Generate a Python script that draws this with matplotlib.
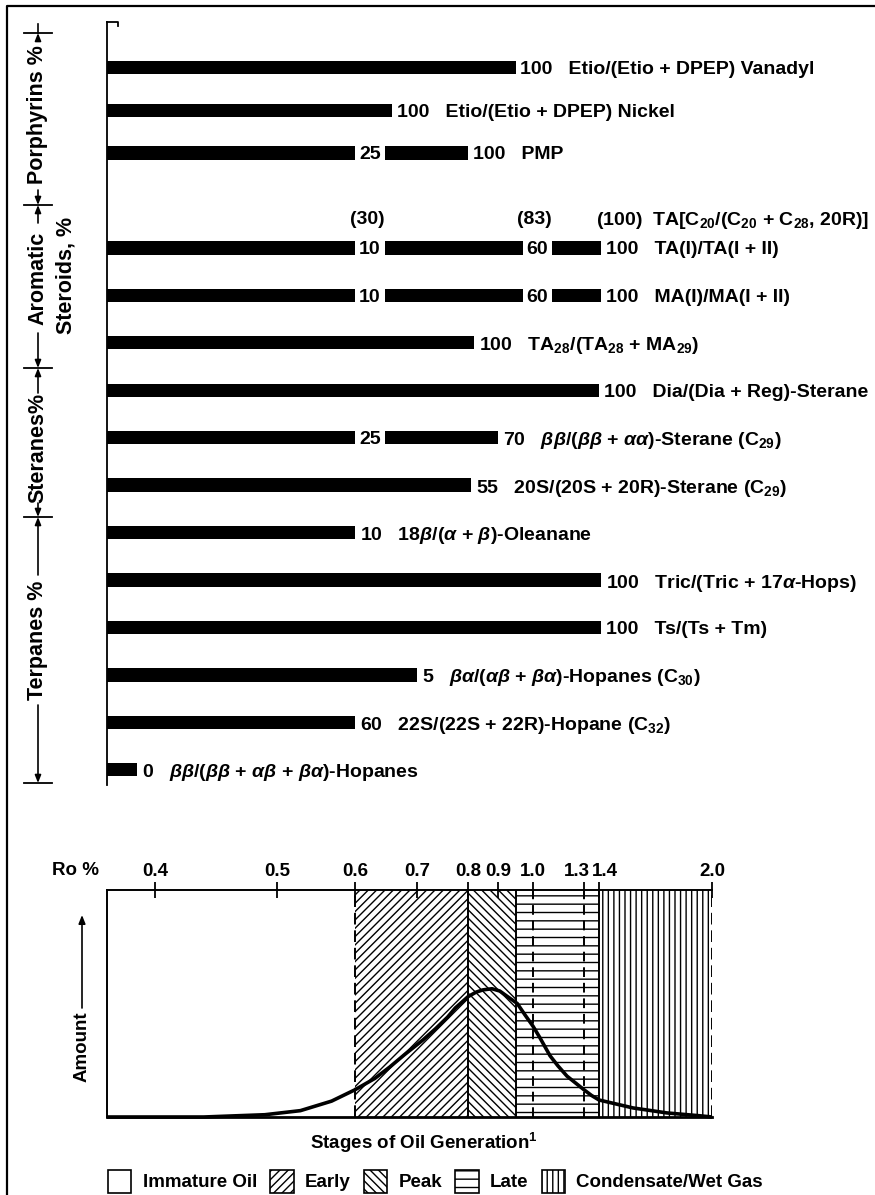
import numpy as np
import matplotlib
matplotlib.use("Agg")
import matplotlib.pyplot as plt
from matplotlib.patches import Patch
from matplotlib import transforms

# ---------------- data ----------------
ro_ticks = [0.4, 0.5, 0.6, 0.7, 0.8, 0.9, 1.0, 1.3, 1.4, 2.0]
ro_tick_labels = ["0.4", "0.5", "0.6", "0.7", "0.8", "0.9", "1.0", "1.3", "1.4", "2.0"]
ro_start = 0.36

marker_names = [
    "Etio/(Etio + DPEP) Vanadyl",
    "Etio/(Etio + DPEP) Nickel",
    "PMP",
    "TA(I)/TA(I + II)",
    "MA(I)/MA(I + II)",
    r"TA$_{28}$/(TA$_{28}$ + MA$_{29}$)",
    "Dia/(Dia + Reg)-Sterane",
    r"$\beta\beta/(\beta\beta$ + $\alpha\alpha)$-Sterane (C$_{29}$)",
    r"20S/(20S + 20R)-Sterane (C$_{29}$)",
    r"18$\beta$/($\alpha$ + $\beta$)-Oleanane",
    r"Tric/(Tric + 17$\alpha$-Hops)",
    "Ts/(Ts + Tm)",
    r"$\beta\alpha$/($\alpha\beta$ + $\beta\alpha$)-Hopanes (C$_{30}$)",
    r"22S/(22S + 22R)-Hopane (C$_{32}$)",
    r"$\beta\beta$/($\beta\beta$ + $\alpha\beta$ + $\beta\alpha$)-Hopanes",
]
marker_end_ro = [0.95, 0.66, 0.80, 1.41, 1.41, 0.82, 1.40, 0.90, 0.81, 0.60,
                 1.41, 1.41, 0.70, 0.60, 0.385]
marker_end_pct = ["100", "100", "100", "100", "100", "100", "100", "70", "55", "10",
                  "100", "100", "5", "60", "0"]
# intermediate values along split bars: row index -> [(Ro, value)]
marker_breaks = {
    2: [(0.60, "25")],
    3: [(0.60, "10"), (0.97, "60")],
    4: [(0.60, "10"), (0.97, "60")],
    7: [(0.60, "25")],
}
ta_header_ro = [0.60, 0.97, 1.41]
ta_header_pct = ["(30)", "(83)", "(100)"]
ta_header_name = r"TA[C$_{20}$/(C$_{20}$ + C$_{28}$, 20R)]"

stage_names = ["Immature Oil", "Early", "Peak", "Late", "Condensate/Wet Gas"]
stage_start = [0.36, 0.60, 0.80, 0.95, 1.40]
stage_end = [0.60, 0.80, 0.95, 1.40, 2.00]

curve_ro = [0.36, 0.44, 0.49, 0.53, 0.57, 0.60, 0.632, 0.656, 0.68, 0.712, 0.737, 0.76,
            0.775, 0.80, 0.827, 0.85, 0.88, 0.905, 0.923, 0.955, 0.977, 1.0, 1.04, 1.1,
            1.147, 1.2, 1.25, 1.3, 1.35, 1.4, 1.58, 1.76, 1.94, 2.0]
curve_amount = [0.0, 0.0, 0.01, 0.028, 0.07, 0.12, 0.17, 0.22, 0.275, 0.34, 0.39, 0.44,
                0.48, 0.53, 0.55, 0.56, 0.565, 0.555, 0.535, 0.50, 0.45, 0.40, 0.35, 0.27,
                0.225, 0.18, 0.15, 0.12, 0.095, 0.075, 0.04, 0.018, 0.005, 0.0]

# ---------------- layout / style ----------------
W, H = 875, 1195
ro_axis_px = [107, 155, 277, 355, 417, 468, 498, 533, 584, 599, 712]  # nonlinear Ro axis of the figure
row_slot = [0.2, 1.1, 2.0, 4, 5, 6, 7, 8, 9, 10, 11, 12, 13, 14, 15]
header_slot = 3.37
stage_hatch = [None, "////", "\\\\\\\\", "--", "|||"]
boundary_ro = [0.6, 0.8, 0.95, 1.0, 1.3, 1.4, 2.0]
boundary_ls = [(0, (6, 3)), "-", "-", (0, (5, 3)), (0, (5, 3)), "-", (0, (6, 3))]

plt.rcParams["font.family"] = ["Liberation Sans", "DejaVu Sans"]
plt.rcParams["font.weight"] = "bold"
plt.rcParams["mathtext.fontset"] = "custom"
plt.rcParams["mathtext.rm"] = "Liberation Sans:bold"
plt.rcParams["mathtext.it"] = "Liberation Sans:italic:bold"
plt.rcParams["mathtext.bf"] = "Liberation Sans:bold"
plt.rcParams["mathtext.sf"] = "Liberation Sans:bold"
plt.rcParams["hatch.linewidth"] = 1.0

FS = 14
FS_AX = 13.5
FS_SIDE = 15.5

knot_ro = np.array([ro_start] + ro_ticks, float)
knot_pos = (np.array(ro_axis_px, float) - ro_axis_px[0]) / (ro_axis_px[-1] - ro_axis_px[0])


def _pl(v, xs, ys):
    v = np.asarray(v, float)
    out = np.interp(v, xs, ys)
    s0 = (ys[1] - ys[0]) / (xs[1] - xs[0])
    s1 = (ys[-1] - ys[-2]) / (xs[-1] - xs[-2])
    out = np.where(v < xs[0], ys[0] + (v - xs[0]) * s0, out)
    out = np.where(v > xs[-1], ys[-1] + (v - xs[-1]) * s1, out)
    return out


def fwd(v):
    return _pl(v, knot_ro, knot_pos)


def inv(p):
    return _pl(p, knot_pos, knot_ro)


fig = plt.figure(figsize=(W / 100, H / 100), dpi=100)
fig.patch.set_facecolor("white")


def px_rect(l, t, r, b):
    return [l / W, 1 - b / H, (r - l) / W, (b - t) / H]


def off(trans, dx=0, dy=0):
    return transforms.offset_copy(trans, fig=fig, x=dx, y=dy, units="dots")


# ---------------- top: biomarker bars ----------------
ax = fig.add_axes(px_rect(107, 22, 712, 785))
ax.set_xscale("function", functions=(fwd, inv))
ax.set_xlim(ro_start, ro_ticks[-1])
ax.set_ylim(15.32, -0.76)
for s in ["top", "right", "bottom"]:
    ax.spines[s].set_visible(False)
ax.spines["left"].set_linewidth(1.3)
ax.set_xticks([])
ax.set_yticks([])
ax.patch.set_alpha(0)

ys = np.array(row_slot, float)
ends = np.array(marker_end_ro, float)
ax.barh(ys, ends - ro_start, left=ro_start, height=0.28, color="black", linewidth=0, zorder=1)

t_end = off(ax.transData, 5, 0)
for i, (name, end, pct) in enumerate(zip(marker_names, marker_end_ro, marker_end_pct)):
    ax.text(end, ys[i], f"{pct}   {name}", transform=t_end, ha="left", va="center_baseline",
            fontsize=FS, clip_on=False)
t_brk = off(ax.transData, 4, 0)
for i, brks in marker_breaks.items():
    for ro, txt in brks:
        ax.text(ro, ys[i], txt, transform=t_brk, ha="left", va="center_baseline", fontsize=FS,
                zorder=3, bbox=dict(boxstyle="square,pad=0.2", fc="white", ec="none"))
t_head = off(ax.transData, -5, 0)
for k, (ro, txt) in enumerate(zip(ta_header_ro, ta_header_pct)):
    s = txt if k < len(ta_header_ro) - 1 else f"{txt}  {ta_header_name}"
    ax.text(ro, header_slot, s, transform=t_head, ha="left", va="center_baseline",
            fontsize=FS, clip_on=False)

# ---------------- bottom: stages of oil generation ----------------
axb = fig.add_axes(px_rect(107, 890, 712, 1117))
axb.set_xscale("function", functions=(fwd, inv))
axb.set_xlim(ro_start, ro_ticks[-1])
axb.set_ylim(0, 1)
for a, b, h in zip(stage_start, stage_end, stage_hatch):
    axb.axvspan(a, b, facecolor="white", edgecolor="black", hatch=h, linewidth=0, zorder=0)
for r, ls in zip(boundary_ro, boundary_ls):
    axb.axvline(r, color="black", lw=1.4, linestyle=ls, zorder=2)
axb.plot(curve_ro, curve_amount, color="black", lw=2.6, clip_on=False, zorder=4,
         solid_capstyle="butt", solid_joinstyle="round")
axb.spines["right"].set_visible(False)
for s in ["top", "left"]:
    axb.spines[s].set_linewidth(1.4)
axb.spines["bottom"].set_linewidth(2.0)
axb.set_yticks([])
axb.set_xticks(ro_ticks)
axb.xaxis.set_ticks_position("top")
axb.tick_params(axis="x", direction="inout", length=11, width=1.3,
                labeltop=False, labelbottom=False)
label_dx = {1.3: -7, 1.4: 6}
blend = transforms.blended_transform_factory(axb.transData, axb.transAxes)
for v, lab in zip(ro_ticks, ro_tick_labels):
    axb.text(v, 1, lab, transform=off(blend, label_dx.get(v, 0), 20), ha="center",
             va="center_baseline", fontsize=FS_AX, clip_on=False)

legend_handles = [Patch(facecolor="white", edgecolor="black", hatch=h, linewidth=1.2, label=n)
                  for n, h in zip(stage_names, stage_hatch)]
fig.legend(handles=legend_handles, loc="lower left", bbox_to_anchor=(108 / W, 2 / H),
           ncol=5, frameon=False, fontsize=FS_AX, handlelength=1.25, handleheight=1.55,
           handletextpad=0.6, columnspacing=0.7, borderpad=0, borderaxespad=0)

# ---------------- overlay: frame, brackets, side labels ----------------
ov = fig.add_axes([0, 0, 1, 1])
ov.set_xlim(0, W)
ov.set_ylim(H, 0)
ov.axis("off")
ov.patch.set_alpha(0)

ov.plot([7, 7, W + 5], [H + 5, 6, 6], color="black", lw=1.6, clip_on=False)
ov.plot([107, 118, 118], [22, 22, 26], color="black", lw=1.3)

bx = 38
for ty in [33, 205, 368, 517, 783]:
    ov.plot([bx - 14, bx + 14], [ty, ty], color="black", lw=1.3)
ov.plot([bx, bx], [24, 33], color="black", lw=1.2)
arrows = [(40, 33), (190, 205), (223, 205), (333, 368), (393, 368), (503, 517),
          (575, 517), (705, 783)]
for y0, y1 in arrows:
    ov.annotate("", xy=(bx, y1), xytext=(bx, y0),
                arrowprops=dict(arrowstyle="-|>,head_length=0.45,head_width=0.18",
                                color="black", lw=1.2, shrinkA=0, shrinkB=0))
ov.text(bx, 115, "Porphyrins %", rotation=90, ha="center", va="center", fontsize=FS_SIDE)
ov.text(bx, 278, "Aromatic", rotation=90, ha="center", va="center", fontsize=FS_SIDE)
ov.text(66, 275, "Steroids, %", rotation=90, ha="center", va="center", fontsize=FS_SIDE)
ov.text(bx, 448, "Steranes%", rotation=90, ha="center", va="center", fontsize=FS_SIDE)
ov.text(bx, 640, "Terpanes %", rotation=90, ha="center", va="center", fontsize=FS_SIDE)

ov.text(75, 868, "Ro %", ha="center", va="center_baseline", fontsize=FS_AX)
ov.text(82, 1047, "Amount", rotation=90, ha="center", va="center", fontsize=FS_AX)
ov.annotate("", xy=(82, 915), xytext=(82, 1008),
            arrowprops=dict(arrowstyle="-|>,head_length=0.5,head_width=0.2",
                            color="black", lw=1.2, shrinkA=0, shrinkB=0))
ov.text(424, 1140, r"Stages of Oil Generation$^{1}$", ha="center", va="center_baseline",
        fontsize=FS_AX)

fig.savefig("out.png", dpi=100, facecolor="white")
